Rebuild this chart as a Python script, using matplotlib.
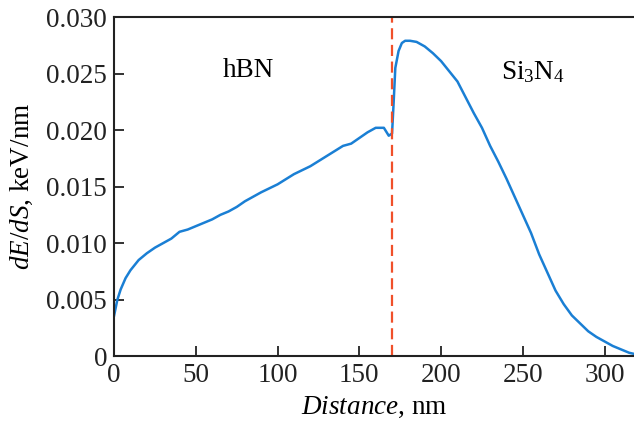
import matplotlib
matplotlib.use("Agg")
import matplotlib.pyplot as plt
from matplotlib.ticker import FuncFormatter

plt.rcParams["font.family"] = "Liberation Serif"
plt.rcParams["mathtext.fontset"] = "custom"
plt.rcParams["mathtext.rm"] = "Liberation Serif"
plt.rcParams["mathtext.it"] = "Liberation Serif:italic"

# --- data ---
distance = [0, 2, 4, 7, 10, 15, 20, 25, 30, 35, 40, 45, 50, 55, 60, 65, 70,
            75, 80, 90, 100, 110, 120, 130, 140, 145, 150, 155, 160, 165, 168,
            170, 171, 172, 174, 176, 178, 181, 185, 190, 195, 200, 205, 210,
            215, 220, 225, 230, 235, 240, 245, 250, 255, 260, 265, 270, 275,
            280, 285, 290, 295, 300, 305, 310, 315, 318]
dEdS = [0.0036, 0.0050, 0.0059, 0.0069, 0.0076, 0.0085, 0.0091, 0.0096,
        0.0100, 0.0104, 0.0110, 0.0112, 0.0115, 0.0118, 0.0121, 0.0125,
        0.0128, 0.0132, 0.0137, 0.0145, 0.0152, 0.0161, 0.0168, 0.0177,
        0.0186, 0.0188, 0.0193, 0.0198, 0.0202, 0.0202, 0.0195, 0.0197,
        0.0225, 0.0255, 0.0270, 0.0277, 0.0279, 0.0279, 0.0278, 0.0274,
        0.0268, 0.0261, 0.0252, 0.0243, 0.0229, 0.0215, 0.0202, 0.0186,
        0.0172, 0.0157, 0.0141, 0.0125, 0.0109, 0.0090, 0.0074, 0.0058,
        0.0046, 0.0036, 0.0029, 0.0022, 0.0017, 0.0013, 0.0009, 0.0006,
        0.0003, 0.0002]
interface = 170
y_ticks = [0, 0.005, 0.010, 0.015, 0.020, 0.025, 0.030]
x_ticks = [0, 50, 100, 150, 200, 250, 300]

fig = plt.figure(figsize=(6.34, 4.26), dpi=100)
ax = fig.add_axes([0.18, 0.164, 0.82, 0.796])

ax.plot(distance, dEdS, color="#1a7fd4", lw=1.8)
ax.axvline(interface, color="#f0502a", lw=1.6, ls=(0, (5, 2.5)))

ax.text(82, 0.0253, "hBN", fontsize=19.5, ha="center", va="center")
ax.text(256, 0.0251, r"Si$_3$N$_4$", fontsize=19.5, ha="center", va="center")

ax.set_xlim(0, 318)
ax.set_ylim(0, 0.030)
ax.set_xticks(x_ticks)
ax.set_yticks(y_ticks)
ax.yaxis.set_major_formatter(FuncFormatter(lambda v, p: "0" if v == 0 else f"{v:.3f}"))
ax.tick_params(direction="in", length=7, width=1.3, labelsize=19.5, colors="#222222")
ax.tick_params(axis="x", pad=5)
ax.tick_params(axis="y", pad=5)

for s in ["left", "bottom", "top"]:
    ax.spines[s].set_linewidth(1.5)
    ax.spines[s].set_color("#222222")
ax.spines["right"].set_visible(False)

ax.set_xlabel(r"$\it{Distance}$, nm", fontsize=19.5, labelpad=5)
ax.set_ylabel(r"$\it{dE/dS}$, keV/nm", fontsize=19.5, labelpad=8)

fig.savefig("out.png", dpi=100)
